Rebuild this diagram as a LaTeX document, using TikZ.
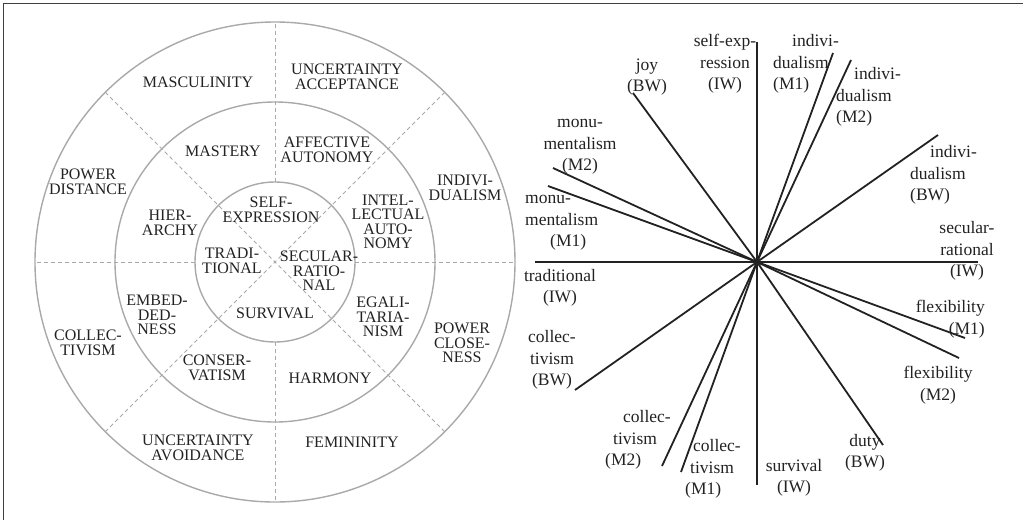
\documentclass[tikz,border=0pt]{standalone}
\usepackage{fontspec}
\usetikzlibrary{calc}
\setmainfont{Liberation Serif}
\definecolor{ringgray}{HTML}{A9A9A9}
\definecolor{txt}{HTML}{222222}
\begin{document}
\begin{tikzpicture}[x=1pt,y=-1pt,
  ring/.style={draw=ringgray,line width=1.4pt},
  sepline/.style={draw=ringgray,line width=0.9pt,dash pattern=on 4pt off 3pt},
  lab/.style={inner sep=0pt,align=center,font=\fontsize{16}{14.5}\selectfont,text=txt},
  rlab/.style={inner sep=0pt,align=center,font=\fontsize{17.5}{21.5}\selectfont,text=txt},
  ray/.style={draw=txt,line width=1.8pt}]
\useasboundingbox (0,0) rectangle (1023,520);
\draw[line width=1.6pt,draw=black!75] (3.5,520) -- (3.5,3.5) -- (1023,3.5);

% ---------- left: concentric circles ----------
\coordinate (c) at (275,262);
\draw[ring] (c) circle[radius=240pt];
\draw[ring] (c) circle[radius=160pt];
\draw[ring] (c) circle[radius=80pt];
\foreach \a in {0,90,180,270}
  \draw[sepline] ($(c)+(\a:80)$) -- ($(c)+(\a:240)$);
\draw[sepline] ($(c)+(45:240)$) -- ($(c)+(225:240)$);
\draw[sepline] ($(c)+(135:240)$) -- ($(c)+(315:240)$);

\node[lab] (masc) at (198,82) {MASCULINITY};
\node[lab] (uacc) at (347,77) {UNCERTAINTY\\ACCEPTANCE};
\node[lab] (pdis) at (88,182) {POWER\\DISTANCE};
\node[lab] (indo) at (465,188) {INDIVI-\\DUALISM};
\node[lab] (coll) at (88,343) {COLLEC-\\TIVISM};
\node[lab] (pclo) at (462,343) {POWER\\CLOSE-\\NESS};
\node[lab] (uavo) at (198,448) {UNCERTAINTY\\AVOIDANCE};
\node[lab] (femi) at (352,442) {FEMININITY};
\node[lab] (mast) at (223,151) {MASTERY};
\node[lab] (affa) at (327,150) {AFFECTIVE\\AUTONOMY};
\node[lab] (hier) at (170,223) {HIER-\\ARCHY};
\node[lab] (inta) at (388,222) {INTEL-\\LECTUAL\\AUTO-\\NOMY};
\node[lab] (embe) at (157,315) {EMBED-\\DED-\\NESS};
\node[lab] (egal) at (383,317) {EGALI-\\TARIA-\\NISM};
\node[lab] (cons) at (217,368) {CONSER-\\VATISM};
\node[lab] (harm) at (330,378) {HARMONY};
\node[lab] (self) at (271,210) {SELF-\\EXPRESSION};
\node[lab] (trad) at (232,261) {TRADI-\\TIONAL};
\node[lab] (secu) at (319,271) {SECULAR-\\RATIO-\\NAL};
\node[lab] (surv) at (275,313) {SURVIVAL};

% ---------- right: star of axes ----------
\coordinate (o) at (757,262);
\coordinate (tp) at (757,42);
\coordinate (bt) at (757,485);
\coordinate (lf) at (535,262);
\coordinate (rt) at (978,262);
\coordinate (joy) at (633,93);
\coordinate (dut) at (883,445);
\coordinate (im1) at (833,53);
\coordinate (cm1) at (681,472);
\coordinate (im2) at (851,60);
\coordinate (cm2) at (662,466);
\coordinate (ibw) at (938,135);
\coordinate (cbw) at (575,390);
\coordinate (mm2) at (553,168);
\coordinate (fm2) at (959,358);
\coordinate (mm1) at (548,186);
\coordinate (fm1) at (965,338);
\foreach \e in {tp,bt,lf,rt,joy,dut,im1,cm1,im2,cm2,ibw,cbw,mm2,fm2,mm1,fm1}
  \draw[ray,line cap=butt] (o) -- (\e);

\node[rlab] (ljoy) at (647,77) {joy\\(BW)};
\node[rlab] (lse) at (725,64) {self-exp-\\ression\\(IW)};
\node[rlab,align=left,anchor=west] (lim1) at (773,64) {\hspace*{19pt}indivi-\\dualism\\(M1)};
\node[rlab,align=left,anchor=west] (lim2) at (836,97) {\hspace*{18pt}indivi-\\dualism\\(M2)};
\node[rlab,align=left,anchor=west] (libw) at (910,175) {\hspace*{20pt}indivi-\\dualism\\(BW)};
\node[rlab] (lsr) at (967,251) {secular-\\rational\\(IW)};
\node[rlab] (lmm2) at (580,147) {monu-\\mentalism\\(M2)};
\node[rlab,align=left,anchor=west] (lmm1) at (525,223) {monu-\\mentalism\\\hspace*{25pt}(M1)};
\node[rlab] (ltr) at (560,288) {traditional\\(IW)};
\node[rlab] (lcbw) at (552,360) {collec-\\tivism\\(BW)};
\node[rlab,align=left,anchor=west] (lcm2) at (605,440) {\hspace*{18pt}collec-\\\hspace*{8pt}tivism\\(M2)};
\node[rlab,align=left,anchor=west] (lcm1) at (685,469) {\hspace*{8pt}collec-\\\hspace*{5pt}tivism\\(M1)};
\node[rlab] (lsu) at (794,478) {survival\\(IW)};
\node[rlab] (ldu) at (865,453) {duty\\(BW)};
\node[rlab,align=right,anchor=east] (lfm1) at (985,319) {flexibility\\(M1)};
\node[rlab] (lfm2) at (938,385) {flexibility\\(M2)};
\end{tikzpicture}
\end{document}
